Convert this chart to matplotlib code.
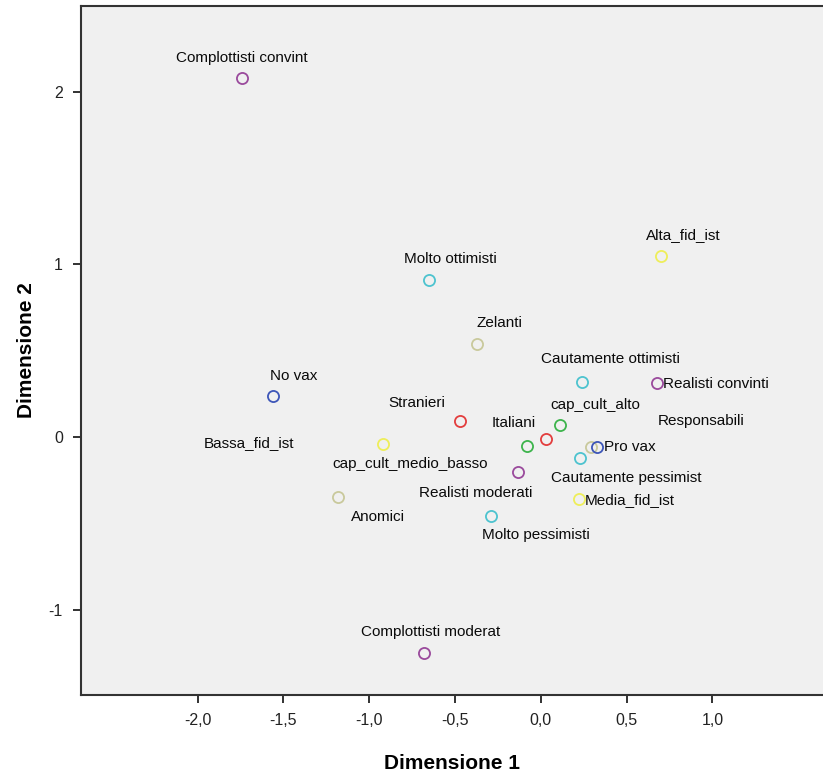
import matplotlib.pyplot as plt
from matplotlib.ticker import FixedLocator

plt.rcParams['font.family'] = ['Liberation Sans', 'DejaVu Sans']

# Categorie e coordinate (Dimensione 1, Dimensione 2)
etichette = ['Complottisti convint', 'Alta_fid_ist', 'Molto ottimisti', 'Zelanti',
             'Cautamente ottimisti', 'Realisti convinti', 'No vax', 'Stranieri',
             'cap_cult_alto', 'Italiani', 'Responsabili', 'Pro vax', 'Bassa_fid_ist',
             'cap_cult_medio_basso', 'Cautamente pessimist', 'Realisti moderati',
             'Media_fid_ist', 'Anomici', 'Molto pessimisti', 'Complottisti moderat']
dim1 = [-1.74, 0.70, -0.65, -0.37, 0.24, 0.68, -1.56, -0.47, 0.11, 0.03,
        0.29, 0.33, -0.92, -0.08, 0.23, -0.13, 0.22, -1.18, -0.29, -0.68]
dim2 = [2.08, 1.05, 0.91, 0.54, 0.32, 0.31, 0.24, 0.09, 0.07, -0.01,
        -0.06, -0.06, -0.04, -0.05, -0.12, -0.20, -0.36, -0.35, -0.46, -1.25]
gruppo = ['complotto', 'fiducia', 'ottimismo', 'vax3', 'ottimismo', 'complotto',
          'vax', 'origine', 'cultura', 'origine', 'vax3', 'vax', 'fiducia',
          'cultura', 'ottimismo', 'complotto', 'fiducia', 'vax3', 'ottimismo',
          'complotto']

x_ticks = [-2.0, -1.5, -1.0, -0.5, 0.0, 0.5, 1.0]
x_tick_labels = ['-2,0', '-1,5', '-1,0', '-0,5', '0,0', '0,5', '1,0']
y_ticks = [-1, 0, 1, 2]
y_tick_labels = ['-1', '0', '1', '2']

colori = {'complotto': '#9a4a9c', 'fiducia': '#eeee5a', 'ottimismo': '#4dc3cf',
          'vax3': '#c9c99c', 'vax': '#3d56b8', 'origine': '#e33d3d',
          'cultura': '#3db44c'}

# posizione delle etichette rispetto al punto (pixel) e allineamento
offset = [(0, 20, 'center'), (22, 21, 'center'), (21, 21, 'center'), (22, 21, 'center'),
          (28, 23, 'center'), (6, -1, 'left'), (21, 20, 'center'), (-43, 18, 'center'),
          (36, 20, 'center'), (-32, 16, 'center'), (111, 26, 'center'), (7, 0, 'left'),
          (-134, 1, 'center'), (-117, -18, 'center'), (46, -20, 'center'),
          (-43, -21, 'center'), (6, -1, 'left'), (40, -20, 'center'),
          (45, -19, 'center'), (7, 21, 'center')]

fig = plt.figure(figsize=(8.23, 7.78), dpi=100)
ax = fig.add_axes([81 / 823, 83 / 778, 742 / 823, 689 / 778])
ax.set_facecolor('#f0f0f0')

for xi, yi, g in zip(dim1, dim2, gruppo):
    ax.plot(xi, yi, 'o', markersize=8, markerfacecolor='none',
            markeredgecolor=colori[g], markeredgewidth=1.3)

for lab, xi, yi, (dx, dy, ha) in zip(etichette, dim1, dim2, offset):
    ax.annotate(lab, (xi, yi), xytext=(dx, dy), textcoords='offset pixels',
                ha=ha, va='center', fontsize=11, color='#0a0a0a')

ax.set_xlim(-2.68, 1.645)
ax.set_ylim(-1.494, 2.496)
ax.xaxis.set_major_locator(FixedLocator(x_ticks))
ax.set_xticklabels(x_tick_labels)
ax.yaxis.set_major_locator(FixedLocator(y_ticks))
ax.set_yticklabels(y_tick_labels)
ax.tick_params(direction='out', length=6, width=1.3, labelsize=11.5, pad=7,
               colors='#222222')

for s in ['left', 'bottom', 'top']:
    ax.spines[s].set_linewidth(1.5)
    ax.spines[s].set_color('#333333')
ax.spines['right'].set_visible(False)

ax.set_xlabel('Dimensione 1', fontsize=15, fontweight='bold', labelpad=19)
ax.set_ylabel('Dimensione 2', fontsize=15, fontweight='bold', labelpad=9)

fig.savefig('out.png', dpi=100)
